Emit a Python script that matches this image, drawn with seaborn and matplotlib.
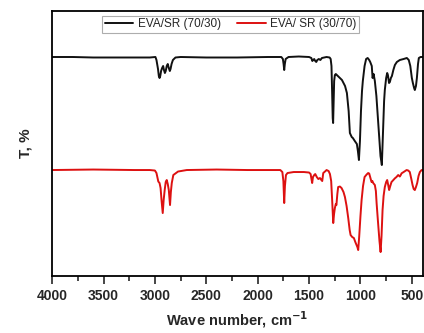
import pandas as pd
import matplotlib
matplotlib.use("Agg")
import matplotlib.pyplot as plt
import seaborn as sns
from matplotlib.ticker import MultipleLocator

# Spectra (wavenumber in cm-1, transmittance in arbitrary units)
black_wn = [4000, 3800, 3600, 3400, 3200, 3050, 2995, 2985, 2970, 2962, 2955, 2948, 2940, 2930,
            2920, 2912, 2903, 2895, 2885, 2875, 2865, 2855, 2848, 2838, 2825, 2800, 2750, 2500,
            2200, 1900, 1770, 1755, 1748, 1742, 1736, 1728, 1700, 1600, 1500, 1478, 1468, 1460,
            1450, 1440, 1430, 1420, 1405, 1390, 1375, 1330, 1300, 1290, 1282, 1276, 1270, 1266,
            1262, 1256, 1249, 1240, 1230, 1220, 1180, 1150, 1132, 1115, 1103, 1085, 1074, 1055,
            1035, 1025, 1015, 1005, 995, 985, 977, 960, 945, 930, 915, 905, 890, 882, 872, 860,
            845, 825, 805, 792, 782, 770, 763, 750, 740, 733, 722, 714, 704, 694, 680, 665, 646,
            617, 580, 549, 530, 515, 500, 490, 478, 471, 460, 451, 440, 432, 415, 390]
black_t = [219, 219, 218.5, 218.5, 218.5, 218.5, 219, 216, 207, 200, 198, 200, 205, 208,
           210, 206, 203, 205, 210, 212, 208, 205, 207, 212, 216, 218.5, 219, 218.5,
           218.5, 219, 219, 217, 212, 206, 212, 217, 219, 219.5, 219, 218, 215, 216,
           217, 215, 214, 216, 217, 216, 218, 219, 218.5, 217, 210, 185, 158, 153,
           170, 195, 201, 202, 201, 200, 196, 190, 183, 165, 143, 139, 138, 135,
           132, 125, 116, 135, 165, 185, 195, 210, 217, 218, 216, 214, 210, 198, 202, 195,
           180, 150, 120, 111, 140, 175, 186, 198, 203, 201, 193, 194, 198, 200, 206, 211, 214,
           216, 217, 218, 216, 210, 198, 193, 188, 186, 190, 198, 212, 218, 219, 219]

red_wn = [4000, 3600, 3200, 3050, 3000, 2985, 2967, 2955, 2945, 2935, 2924, 2915, 2905, 2895,
          2885, 2875, 2865, 2853, 2845, 2836, 2821, 2775, 2690, 2400, 2100, 1900, 1780, 1760,
          1750, 1742, 1735, 1725, 1710, 1650, 1550, 1500, 1485, 1475, 1470, 1462, 1450, 1440,
          1425, 1410, 1394, 1380, 1372, 1362, 1340, 1330, 1310, 1297, 1285, 1275, 1265, 1257,
          1249, 1240, 1234, 1225, 1217, 1200, 1184, 1165, 1151, 1135, 1119, 1105, 1096, 1080,
          1064, 1050, 1038, 1030, 1022, 1012, 1000, 989, 975, 960, 940, 925, 915, 903, 892,
          884, 876, 868, 860, 850, 843, 830, 815, 804, 795, 785, 775, 763, 750, 740, 730, 721,
          710, 698, 680, 665, 650, 633, 617, 608, 600, 580, 551, 535, 520, 505, 493, 482, 471,
          460, 448, 435, 422, 405, 390]
red_t = [106, 106.5, 106, 106, 105.5, 103, 94.5, 93, 88, 75, 63, 76, 86, 94,
         96, 92, 86, 71, 84, 93, 101, 104.5, 106, 106.5, 106, 106, 106, 104,
         95, 73, 90, 101, 103, 104, 104, 103.5, 102, 96, 93, 99, 101, 102,
         99, 97, 98, 96, 95, 103, 105, 106, 105, 102, 95, 75, 53, 62,
         68, 72, 71, 82, 89, 89.5, 88, 84, 79, 70, 58, 46, 41, 39,
         38, 34, 31, 29, 26, 40, 60, 76, 90, 99, 101.5, 103, 102.5, 98, 94,
         95, 93, 92, 91, 85, 73, 55, 35, 24, 40, 66, 80, 89, 94, 96, 91, 86,
         90, 94, 96, 97.7, 99, 101, 99.5, 101, 102.7, 104, 106, 105.5, 104, 97, 91, 87, 86,
         89, 93, 100, 104, 106, 106]

labels = ["EVA/SR (70/30)", "EVA/ SR (30/70)"]
colors = ["#111111", "#dd1111"]

df = pd.concat([
    pd.DataFrame({"wn": black_wn, "T": black_t, "sample": labels[0]}),
    pd.DataFrame({"wn": red_wn, "T": red_t, "sample": labels[1]}),
])

sns.set_style("white")
plt.rcParams["font.family"] = ["Liberation Sans", "DejaVu Sans"]

fig = plt.figure(figsize=(4.24, 3.33), dpi=100)
ax = fig.add_axes([0.123, 0.171, 0.875, 0.796])

sns.lineplot(data=df, x="wn", y="T", hue="sample", palette=colors,
             linewidth=1.4, estimator=None, ax=ax)

ax.set_xlim(4000, 390)
ax.set_ylim(0, 265)
ax.xaxis.set_major_locator(MultipleLocator(500))
ax.xaxis.set_minor_locator(MultipleLocator(250))
ax.set_yticks([])
ax.tick_params(axis="x", which="major", direction="out", length=6, width=1.2,
               labelsize=10, bottom=True, pad=3)
ax.tick_params(axis="x", which="minor", direction="out", length=3.5, width=1.2, bottom=True)
for lbl in ax.get_xticklabels():
    lbl.set_fontweight("bold")
for s in ax.spines.values():
    s.set_linewidth(1.3)
    s.set_color("black")

ax.set_xlabel("Wave number, cm$^{\\mathbf{-1}}$", fontsize=10.5, fontweight="bold", labelpad=5)
ax.set_ylabel("T, %", fontsize=11, fontweight="bold", labelpad=14)

leg = ax.legend(loc="upper center", ncol=2, fontsize=8.5, frameon=True, fancybox=False,
                handlelength=2.4, borderpad=0.2, columnspacing=1.4, handletextpad=0.4,
                borderaxespad=0, bbox_to_anchor=(0.481, 0.981))
leg.get_frame().set_edgecolor("#999999")
leg.get_frame().set_linewidth(0.8)

fig.savefig("out.png", dpi=100)
